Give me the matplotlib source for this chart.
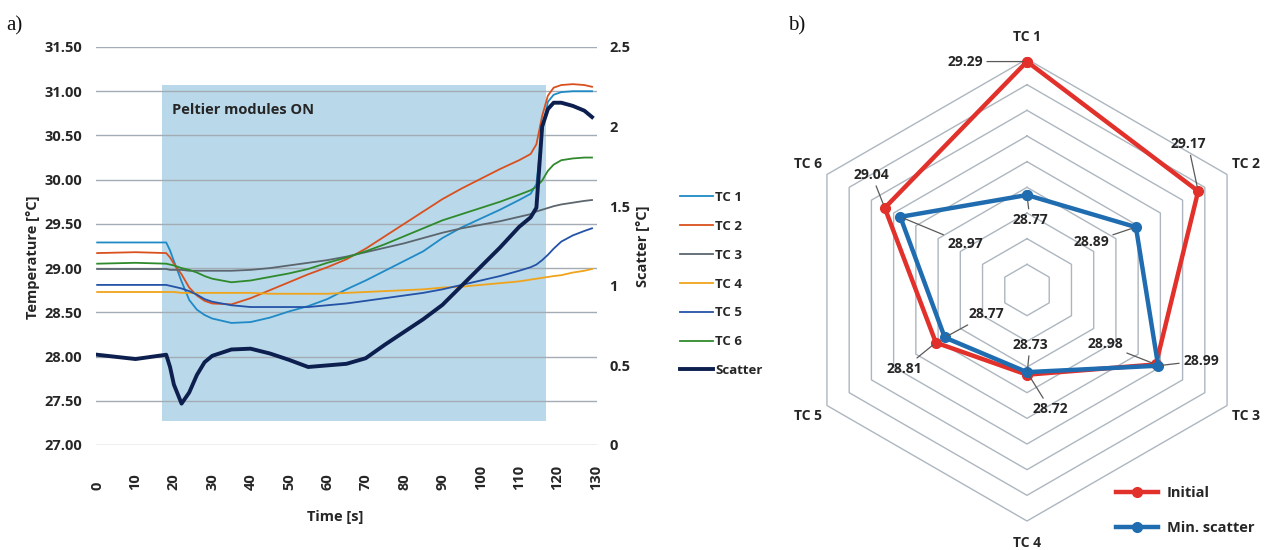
import matplotlib
matplotlib.use('Agg')
import matplotlib.pyplot as plt
from matplotlib.patches import Rectangle
import numpy as np

plt.rcParams['font.family'] = ['Open Sans', 'DejaVu Sans']
plt.rcParams['font.weight'] = 'bold'

# ---- a) temperature log ----
time_s = [0, 10, 18, 19, 20, 22, 24, 26, 28, 30, 35, 40, 45, 50, 55, 60, 65, 70, 75,
          80, 85, 90, 95, 100, 105, 110, 113, 114.5, 116, 117.5, 119, 121, 124, 127, 129]
tc1 = [29.29, 29.29, 29.29, 29.20, 29.08, 28.85, 28.64, 28.53, 28.47, 28.43, 28.38, 28.39,
       28.44, 28.51, 28.57, 28.65, 28.76, 28.86, 28.97, 29.08, 29.19, 29.34, 29.46, 29.56,
       29.66, 29.77, 29.84, 29.95, 30.55, 30.88, 30.96, 30.99, 31.00, 31.00, 31.00]
tc2 = [29.17, 29.18, 29.17, 29.12, 29.05, 28.93, 28.78, 28.69, 28.63, 28.60, 28.59, 28.66,
       28.75, 28.84, 28.93, 29.01, 29.10, 29.22, 29.36, 29.50, 29.64, 29.78, 29.90, 30.01,
       30.12, 30.22, 30.29, 30.40, 30.72, 30.95, 31.04, 31.07, 31.08, 31.07, 31.05]
tc3 = [28.99, 28.99, 28.99, 28.98, 28.98, 28.98, 28.97, 28.97, 28.97, 28.97, 28.97, 28.98,
       29.00, 29.03, 29.06, 29.09, 29.13, 29.18, 29.23, 29.28, 29.34, 29.40, 29.45, 29.49,
       29.53, 29.58, 29.61, 29.64, 29.66, 29.68, 29.70, 29.72, 29.74, 29.76, 29.77]
tc4 = [28.73, 28.73, 28.73, 28.73, 28.73, 28.72, 28.72, 28.72, 28.72, 28.72, 28.72, 28.72,
       28.71, 28.71, 28.71, 28.71, 28.72, 28.73, 28.74, 28.75, 28.76, 28.78, 28.79, 28.81,
       28.83, 28.85, 28.87, 28.88, 28.89, 28.90, 28.91, 28.92, 28.95, 28.97, 28.99]
tc5 = [28.81, 28.81, 28.81, 28.80, 28.79, 28.77, 28.74, 28.70, 28.65, 28.62, 28.58, 28.56,
       28.56, 28.56, 28.56, 28.58, 28.60, 28.63, 28.66, 28.69, 28.72, 28.76, 28.81, 28.86,
       28.91, 28.97, 29.01, 29.04, 29.09, 29.15, 29.22, 29.30, 29.37, 29.42, 29.45]
tc6 = [29.05, 29.06, 29.05, 29.04, 29.03, 29.00, 28.98, 28.95, 28.91, 28.88, 28.84, 28.86,
       28.90, 28.94, 28.99, 29.06, 29.12, 29.19, 29.27, 29.36, 29.45, 29.54, 29.61, 29.68,
       29.75, 29.83, 29.88, 29.92, 29.99, 30.10, 30.17, 30.22, 30.24, 30.25, 30.25]
scatter = [0.567, 0.54, 0.567, 0.49, 0.38, 0.26, 0.33, 0.44, 0.52, 0.56, 0.60, 0.605,
           0.575, 0.535, 0.49, 0.50, 0.51, 0.545, 0.63, 0.71, 0.79, 0.88, 1.00, 1.12,
           1.24, 1.37, 1.43, 1.49, 2.00, 2.11, 2.15, 2.15, 2.13, 2.10, 2.06]

tc_names = ['TC 1', 'TC 2', 'TC 3', 'TC 4', 'TC 5', 'TC 6']
tc_colors = ['#1f8ac6', '#d9501e', '#5b666f', '#f0a41c', '#2452a6', '#2f8a2c']
peltier_t = (17.0, 117.0)
peltier_temp = (27.27, 31.07)

# ---- b) radar ----
radar_labels = ['TC 1', 'TC 2', 'TC 3', 'TC 4', 'TC 5', 'TC 6']
initial = [29.29, 29.17, 28.98, 28.73, 28.81, 29.04]
min_scatter = [28.77, 28.89, 28.99, 28.72, 28.77, 28.97]
radar_rings = [28.5, 28.6, 28.7, 28.8, 28.9, 29.0, 29.1, 29.2, 29.3]

W, H = 1273, 550
txt = '#262626'
grid_c = '#a3acb4'
fs = 10.5

fig = plt.figure(figsize=(W / 100, H / 100), dpi=100)

ax = fig.add_axes([96 / W, 1 - 445 / H, 501 / W, 398 / H])
ax.add_patch(Rectangle((peltier_t[0], peltier_temp[0]), peltier_t[1] - peltier_t[0],
                       peltier_temp[1] - peltier_temp[0], facecolor='#b9d8e9',
                       edgecolor='none', zorder=0.5))
handles = []
for vals, name, col in zip([tc1, tc2, tc3, tc4, tc5, tc6], tc_names, tc_colors):
    h, = ax.plot(time_s, vals, color=col, lw=1.3, label=name, zorder=2)
    handles.append(h)
ax.set_xlim(-0.3, 130.3)
ax.set_ylim(27.0, 31.5)
ax.set_yticks(np.arange(27.0, 31.51, 0.5))
ax.set_yticklabels([f'{v:.2f}' for v in np.arange(27.0, 31.51, 0.5)])
ax.set_xticks(range(0, 131, 10))
ax.set_xticklabels([])
ax.tick_params(length=0, labelsize=fs, colors=txt, pad=10)
ax.grid(axis='y', color=grid_c, lw=1.0, zorder=1)
ax.grid(axis='x', visible=False)
for s in ax.spines.values():
    s.set_visible(False)
for t in range(0, 131, 10):
    ax.text(t, -0.113, str(t), transform=ax.get_xaxis_transform(), rotation=90,
            ha='center', va='bottom', fontsize=fs, color=txt)
ax.text(peltier_t[0] + 2.6, 30.79, 'Peltier modules ON', fontsize=10.5, color=txt,
        va='center', ha='left')

ax2 = ax.twinx()
hs, = ax2.plot(time_s, scatter, color='#0d1f4e', lw=2.8, label='Scatter', zorder=3)
handles.append(hs)
ax2.set_ylim(0, 2.5)
ax2.set_yticks([0, 0.5, 1, 1.5, 2, 2.5])
ax2.set_yticklabels(['0', '0.5', '1', '1.5', '2', '2.5'])
ax2.tick_params(length=0, labelsize=fs, colors=txt, pad=9)
for s in ax2.spines.values():
    s.set_visible(False)

fig.text(335 / W, 1 - 517 / H, 'Time [s]', ha='center', va='center', fontsize=fs, color=txt)
fig.text(33 / W, 1 - 257 / H, 'Temperature [°C]', ha='center', va='center', rotation=90,
         fontsize=fs, color=txt)
fig.text(643 / W, 1 - 246 / H, 'Scatter [°C]', ha='center', va='center', rotation=90,
         fontsize=fs, color=txt)

leg = fig.legend(handles=handles, loc='upper left', bbox_to_anchor=(680 / W, 1 - 191 / H),
                 frameon=False, fontsize=9.5, handlelength=2.5, handletextpad=0.15,
                 labelspacing=1.2, borderpad=0, borderaxespad=0)
for t in leg.get_texts():
    t.set_color(txt)

fig.text(6 / W, 1 - 26 / H, 'a)', family='Liberation Serif', weight='normal',
         fontsize=15, va='center', ha='left', color='#111111')
fig.text(788 / W, 1 - 26 / H, 'b)', family='Liberation Serif', weight='normal',
         fontsize=15, va='center', ha='left', color='#111111')

# ---- radar ----
rax = fig.add_axes([796 / W, 29 / H, 462 / W, 462 / H], projection='polar')
rax.set_theta_zero_location('N')
rax.set_theta_direction(-1)
rax.set_ylim(28.4, 29.3)
rax.set_xticks([])
rax.set_yticks([])
rax.grid(False)
rax.spines['polar'].set_visible(False)
rax.patch.set_visible(False)

angles = np.linspace(0, 2 * np.pi, len(radar_labels), endpoint=False)
ang_c = np.append(angles, angles[0])
for r in radar_rings:
    rax.plot(ang_c, [r] * len(ang_c), color='#adb6bf', lw=1.0, clip_on=False, zorder=1)
for a, lab in zip(angles, radar_labels):
    rax.text(a, 29.385, lab, ha='center', va='center', fontsize=10, color=txt)

rax.plot(ang_c, initial + initial[:1], color='#e2302b', lw=3.2, marker='o', ms=7,
         clip_on=False, zorder=3, label='Initial')
rax.plot(ang_c, min_scatter + min_scatter[:1], color='#1f6db0', lw=3.2, marker='o', ms=7,
         clip_on=False, zorder=4, label='Min. scatter')

init_off = [(-62, 0), (-10, 47), (-51, 20), (3, 30), (-32, -26), (-13, 33)]
min_off = [(3, -25), (-45, -15), (43, 5), (23, -37), (42, 23), (65, -27)]
for vals, offs in [(initial, init_off), (min_scatter, min_off)]:
    for a, v, off in zip(angles, vals, offs):
        rax.annotate(f'{v:.2f}', xy=(a, v), xytext=off, textcoords='offset pixels',
                     ha='center', va='center', fontsize=10, color=txt, zorder=6,
                     arrowprops=dict(arrowstyle='-', color='#595959', lw=0.9,
                                     shrinkA=1, shrinkB=3))

rleg = rax.legend(loc='upper left', bbox_to_anchor=(1116 / W, 1 - 486 / H),
                  bbox_transform=fig.transFigure, frameon=False, fontsize=10.5,
                  handlelength=2.9, handletextpad=0.6, labelspacing=1.45,
                  borderpad=0, borderaxespad=0)
for t in rleg.get_texts():
    t.set_color(txt)

fig.savefig('out.png', dpi=100)
